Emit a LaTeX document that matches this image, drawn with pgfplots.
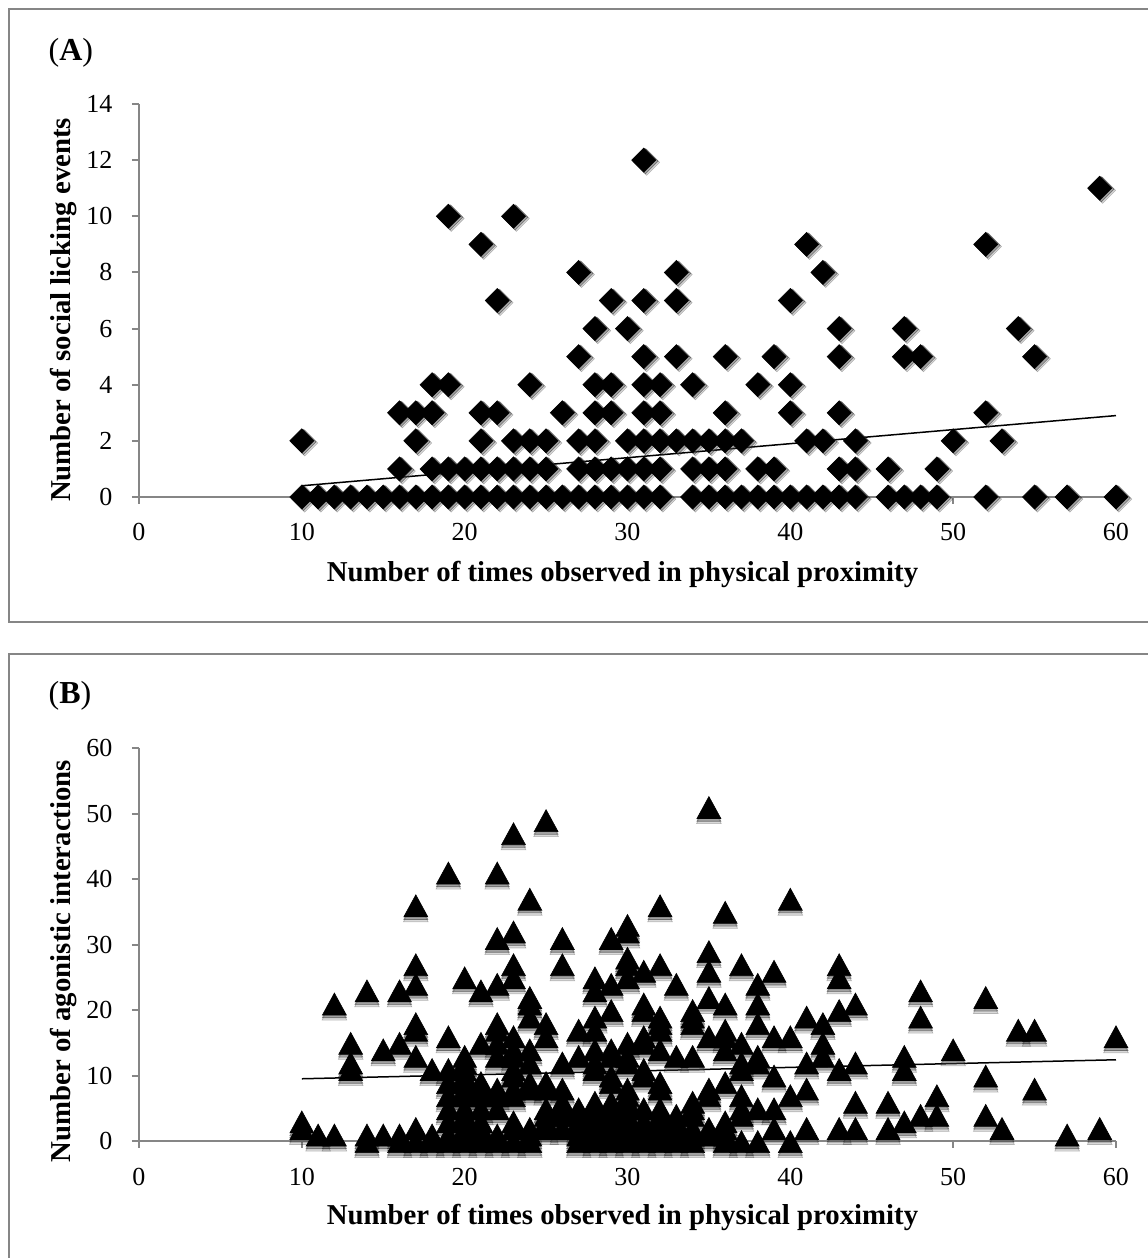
\documentclass[border=0pt]{standalone}
\usepackage{pgfplots}
\usepackage{fontspec}
\setmainfont{Liberation Serif}
\pgfplotsset{compat=1.18}
\definecolor{axgray}{RGB}{134,134,134}
\def\p{0.75pt}
\pgfplotstableread{
x y
31 12
59 11
19 10
23 10
21 9
41 9
52 9
27 8
33 8
42 8
22 7
29 7
31 7
33 7
40 7
28 6
30 6
43 6
47 6
54 6
27 5
31 5
33 5
36 5
39 5
43 5
47 5
48 5
55 5
18 4
19 4
24 4
28 4
29 4
31 4
32 4
34 4
38 4
40 4
16 3
17 3
18 3
21 3
22 3
26 3
28 3
29 3
31 3
32 3
36 3
40 3
43 3
52 3
10 2
17 2
21 2
23 2
24 2
25 2
27 2
28 2
30 2
31 2
32 2
33 2
34 2
35 2
36 2
37 2
41 2
42 2
44 2
50 2
53 2
16 1
18 1
19 1
20 1
21 1
22 1
23 1
24 1
25 1
27 1
28 1
29 1
30 1
31 1
32 1
34 1
35 1
36 1
38 1
39 1
43 1
44 1
46 1
49 1
10 0
11 0
12 0
13 0
14 0
15 0
16 0
17 0
18 0
19 0
20 0
21 0
22 0
23 0
24 0
25 0
26 0
27 0
28 0
29 0
30 0
31 0
32 0
34 0
35 0
36 0
37 0
38 0
39 0
40 0
41 0
42 0
43 0
44 0
46 0
47 0
48 0
49 0
52 0
55 0
57 0
60 0
}\dataA
\pgfplotstableread{
x y
10 3
10 2
11 1
12 21
12 1
13 15
13 12
13 11
14 23
14 1
14 0
15 14
15 1
16 23
16 15
16 1
16 0
17 36
17 27
17 24
17 18
17 17
17 13
17 2
17 0
18 11
18 1
18 0
19 41
19 16
19 11
19 9
19 7
19 5
19 3
19 1
19 0
20 25
20 13
20 12
20 11
20 10
20 9
20 8
20 7
20 5
20 4
20 3
20 2
20 1
20 0
21 23
21 15
21 9
21 8
21 7
21 5
21 3
21 2
21 1
21 0
22 41
22 31
22 24
22 18
22 17
22 15
22 13
22 8
22 7
22 5
22 1
22 0
23 47
23 32
23 27
23 25
23 16
23 14
23 13
23 11
23 10
23 8
23 7
23 3
23 2
23 0
24 37
24 22
24 21
24 19
24 14
24 12
24 9
24 8
24 2
24 1
24 0
25 49
25 18
25 16
25 9
25 8
25 5
25 4
25 3
25 2
26 31
26 27
26 12
26 8
26 6
26 5
26 4
26 2
27 17
27 13
27 5
27 4
27 3
27 2
27 1
27 0
28 25
28 23
28 19
28 17
28 14
28 12
28 11
28 6
28 5
28 4
28 3
28 2
28 1
28 0
29 31
29 24
29 20
29 14
29 13
29 10
29 9
29 6
29 5
29 4
29 3
29 2
29 1
29 0
30 33
30 32
30 28
30 27
30 25
30 15
30 13
30 12
30 8
30 7
30 6
30 5
30 4
30 3
30 2
30 1
30 0
31 26
31 21
31 20
31 16
31 15
31 11
31 10
31 5
31 3
31 2
31 1
31 0
32 36
32 27
32 19
32 18
32 17
32 14
32 9
32 8
32 5
32 4
32 3
32 2
32 1
32 0
33 24
33 13
33 4
33 3
33 2
33 1
33 0
34 20
34 19
34 18
34 13
34 6
34 5
34 4
34 2
34 1
34 0
35 51
35 29
35 26
35 22
35 16
35 8
35 7
35 2
35 1
36 35
36 21
36 17
36 16
36 14
36 9
36 3
36 2
36 1
36 0
37 27
37 15
37 12
37 11
37 7
37 5
37 4
37 0
38 24
38 21
38 18
38 13
38 12
38 5
38 0
39 26
39 16
39 10
39 5
39 2
40 37
40 16
40 7
40 0
41 19
41 12
41 8
41 2
42 18
42 15
42 13
43 27
43 25
43 20
43 11
43 2
44 21
44 12
44 6
44 2
46 6
46 2
47 13
47 11
47 3
48 23
48 19
48 4
49 7
49 4
50 14
52 22
52 10
52 4
53 2
54 17
55 17
55 8
57 1
59 2
60 16
}\dataB
\pgfplotsset{
  panel/.style={
    scale only axis,
    width=977*\p, height=393*\p,
    anchor=south west,
    xmin=0, xmax=60, ymin=0,
    axis lines=left,
    axis line style={-, draw=axgray, line width=2*\p},
    tick style={draw=axgray, line width=2*\p},
    major tick length=7*\p,
    tick align=outside,
    xtick={0,10,...,60},
    clip=false,
    font=\fontsize{19.5pt}{23pt}\selectfont,
    /pgf/number format/assume math mode=true,
    xticklabel style={yshift=-15*\p, font=\fontsize{19.5pt}{23pt}\selectfont},
    yticklabel style={xshift=-15*\p, font=\fontsize{19.5pt}{23pt}\selectfont},
    every axis x label/.style={at={(axis description cs:0.5,0)},anchor=center,xshift=-5*\p,
      font=\fontsize{21.6pt}{25pt}\selectfont\bfseries},
    every axis y label/.style={at={(axis description cs:0,0.5)},rotate=90,anchor=center,
      font=\fontsize{21.6pt}{25pt}\selectfont\bfseries},
  },
  shadowA/.style={only marks, mark=square*, mark size=9.2*\p,
    mark options={rotate=45, draw=none, fill=black!60, opacity=0.25, yshift=-3.5*\p, xshift=0.5*\p}},
  shadowAA/.style={only marks, mark=square*, mark size=8.9*\p,
    mark options={rotate=45, draw=none, fill=black!70, opacity=0.4, yshift=-2*\p, xshift=0.5*\p}},
  solidA/.style={only marks, mark=square*, mark size=8.5*\p,
    mark options={rotate=45, draw=black, fill=black, line width=0.6*\p}},
  shadowB/.style={only marks, mark=triangle*, mark size=14.3*\p,
    mark options={yscale=1.06, draw=none, fill=black!60, opacity=0.25, yshift=-8.5*\p}},
  shadowBB/.style={only marks, mark=triangle*, mark size=14*\p,
    mark options={yscale=1.06, draw=none, fill=black!70, opacity=0.4, yshift=-6.5*\p}},
  solidB/.style={only marks, mark=triangle*, mark size=13.8*\p,
    mark options={yscale=1.06, draw=black, fill=black, line width=0.6*\p, yshift=-4*\p}},
}
\begin{document}
\begin{tikzpicture}[x=0.75pt,y=0.75pt]
\path[use as bounding box] (0,0) rectangle (1148,1258);
\draw[axgray, line width=2*\p] (1148,1249) -- (9,1249) -- (9,636) -- (1148,636);
\draw[axgray, line width=2*\p] (1148,604) -- (9,604) -- (9,-2);
\node[anchor=west, font=\fontsize{24pt}{28pt}\selectfont] at (44,1205) {(\textbf{A})};
\node[anchor=west, font=\fontsize{24pt}{28pt}\selectfont] at (44,562) {(\textbf{B})};
\begin{axis}[panel, at={(139*\p,761*\p)}, ymax=14, ytick={0,2,...,14},
  xlabel={Number of times observed in physical proximity},
  ylabel={Number of social licking events},
  xlabel style={yshift=-77*\p},
  ylabel style={xshift=-9.5*\p, yshift=75*\p},
]
\addplot[shadowA] table {\dataA};
\addplot[shadowAA] table {\dataA};
\addplot[black, line width=1.5*\p] coordinates {(10,0.4) (60,2.9)};
\addplot[solidA] table {\dataA};
\end{axis}
\begin{axis}[panel, at={(139*\p,117*\p)}, ymax=60, ytick={0,10,...,60},
  xlabel={Number of times observed in physical proximity},
  ylabel={Number of agonistic interactions},
  xlabel style={yshift=-76*\p},
  ylabel style={xshift=-16.5*\p, yshift=75*\p},
]
\addplot[shadowB] table {\dataB};
\addplot[shadowBB] table {\dataB};
\addplot[black, line width=1.5*\p] coordinates {(10,9.5) (60,12.4)};
\addplot[solidB] table {\dataB};
\end{axis}
\end{tikzpicture}
\end{document}
